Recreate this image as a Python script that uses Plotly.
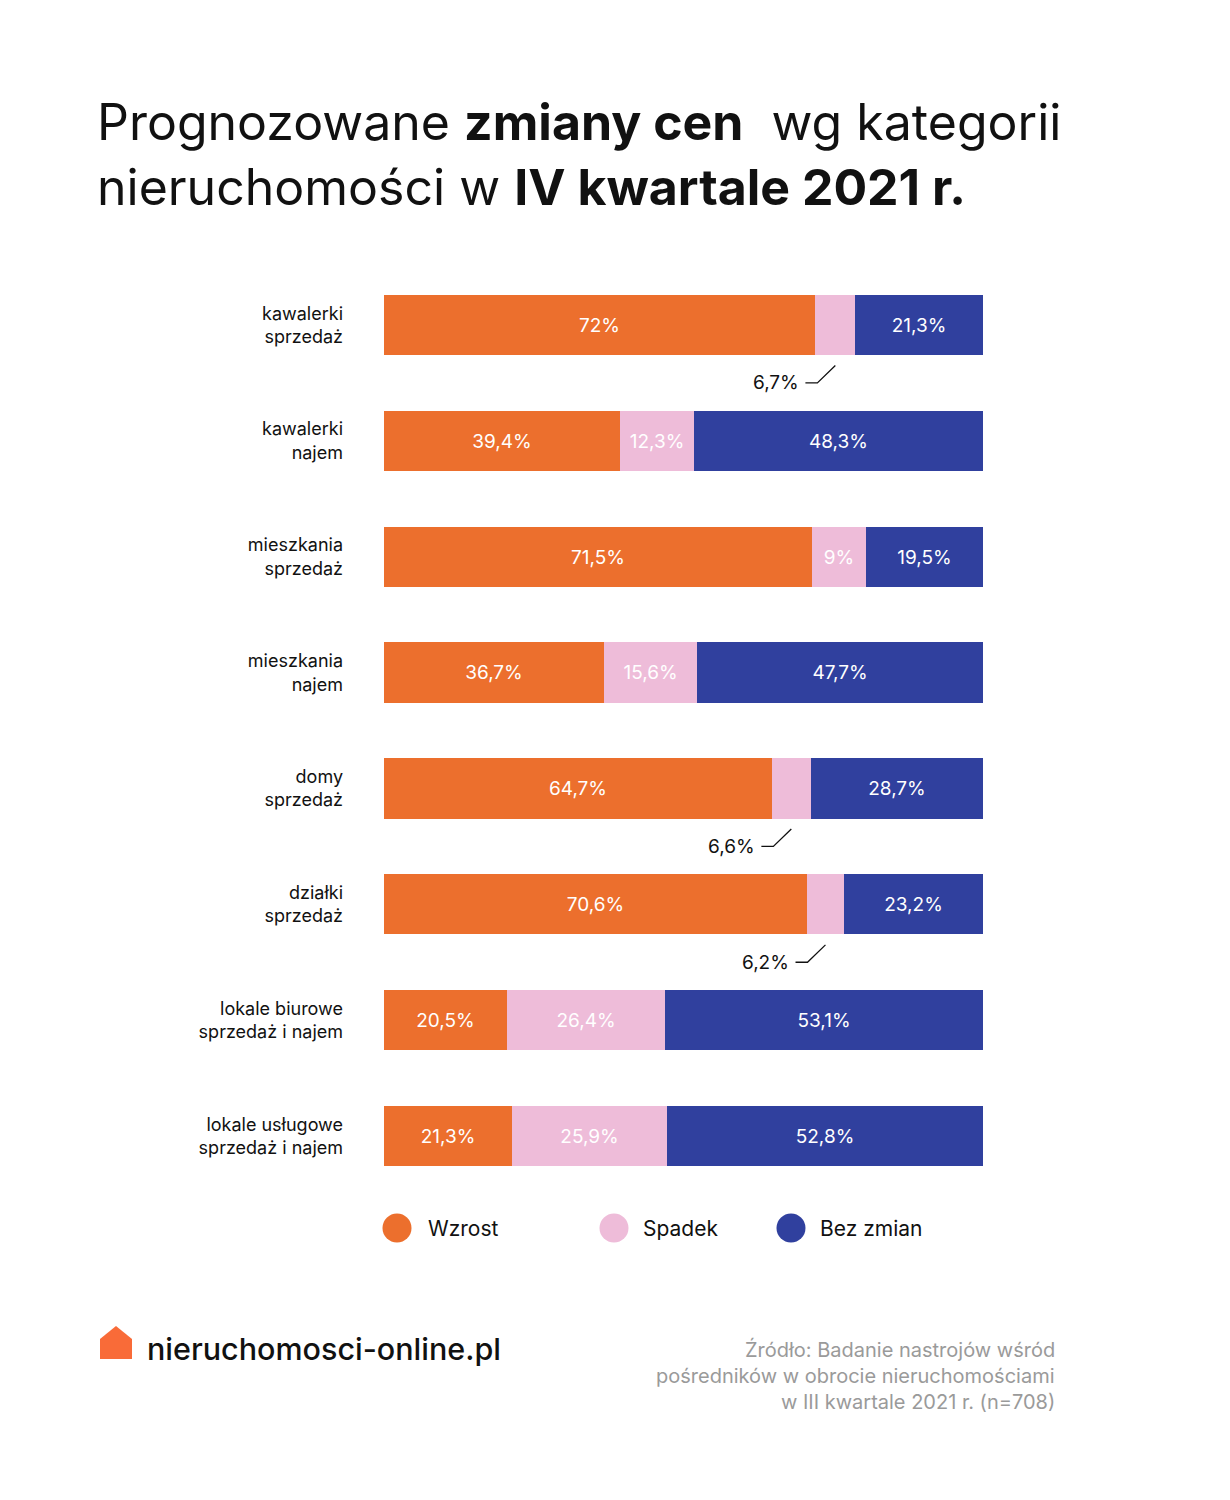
import plotly.graph_objects as go

categories = [
    "kawalerki<br>sprzedaż",
    "kawalerki<br>najem",
    "mieszkania<br>sprzedaż",
    "mieszkania<br>najem",
    "domy<br>sprzedaż",
    "działki<br>sprzedaż",
    "lokale biurowe<br>sprzedaż i najem",
    "lokale usługowe<br>sprzedaż i najem",
]
wzrost = [72.0, 39.4, 71.5, 36.7, 64.7, 70.6, 20.5, 21.3]
spadek = [6.7, 12.3, 9.0, 15.6, 6.6, 6.2, 26.4, 25.9]
bez_zmian = [21.3, 48.3, 19.5, 47.7, 28.7, 23.2, 53.1, 52.8]
series_names = ["Wzrost", "Spadek", "Bez zmian"]
colors = ["#EC6F2D", "#EEBCD9", "#30409E"]

title_lines = [
    "Prognozowane <b>zmiany cen</b>  wg kategorii",
    "nieruchomości w <b>IV kwartale 2021 r.</b>",
]
source_lines = [
    "Źródło: Badanie nastrojów wśród",
    "pośredników w obrocie nieruchomościami",
    "w III kwartale 2021 r. (n=708)",
]
brand = "nieruchomosci-online.pl"

FONT = "Inter"
OFF = 8  # page body margin
W, H = 1230, 1500
L, R = 384 - OFF, 983 - OFF
T, B = 267 - OFF, 1194 - OFF


def px(xp):
    return (xp - OFF - L) / (R - L)


def py(yp):
    return (B - (yp - OFF)) / (B - T)


def fmt(v):
    return f"{v:g}".replace(".", ",") + "%"


SMALL = 7.0
idx = list(range(len(categories)))
fig = go.Figure()
for name, vals, col in zip(series_names, [wzrost, spadek, bez_zmian], colors):
    fig.add_trace(go.Bar(
        name=name, orientation="h", y=idx, x=vals,
        marker=dict(color=col, line=dict(width=0)),
        width=0.52,
        text=[fmt(v) if v >= SMALL else "" for v in vals],
        textposition="inside", insidetextanchor="middle", textangle=0,
        textfont=dict(color="white", size=19, family=FONT),
        hoverinfo="skip", showlegend=False,
    ))

annotations = []
shapes = []
# callouts for small "Spadek" segments
for i, (w, s) in enumerate(zip(wzrost, spadek)):
    if s < SMALL:
        c = w + s / 2
        yb = i + 0.5
        shapes.append(dict(
            type="path", xref="x", yref="y",
            path=f"M {c-5},{yb} L {c-3},{yb} L {c},{i+0.35}",
            line=dict(color="#111111", width=1.3),
        ))
        annotations.append(dict(
            x=c - 5.8, y=yb, xref="x", yref="y", text=fmt(s),
            showarrow=False, xanchor="right", yanchor="middle",
            font=dict(size=19, color="#111111", family=FONT),
        ))

# title
for k, (line, yc) in enumerate(zip(title_lines, [122, 187])):
    annotations.append(dict(
        x=px(95), y=py(yc), xref="paper", yref="paper", text=line,
        showarrow=False, xanchor="left", yanchor="middle",
        font=dict(size=50, color="#111111", family=FONT),
    ))

# legend
leg_cx = [397, 614, 791]
leg_tx = [426, 641, 818]
for name, col, cx, tx in zip(series_names, colors, leg_cx, leg_tx):
    shapes.append(dict(
        type="circle", xref="paper", yref="paper",
        x0=px(cx - 14.5), x1=px(cx + 14.5), y0=py(1228 + 14.5), y1=py(1228 - 14.5),
        fillcolor=col, line=dict(width=0),
    ))
    annotations.append(dict(
        x=px(tx), y=py(1228), xref="paper", yref="paper", text=name,
        showarrow=False, xanchor="left", yanchor="middle",
        font=dict(size=21, color="#111111", family=FONT),
    ))

# logo house
hx0, hx1, hy_top, hy_eave, hy_bot = 100, 132, 1326, 1339, 1359
shapes.append(dict(
    type="path", xref="paper", yref="paper",
    path=(f"M {px(hx0)},{py(hy_bot)} L {px(hx0)},{py(hy_eave)} "
          f"L {px((hx0+hx1)/2)},{py(hy_top)} L {px(hx1)},{py(hy_eave)} "
          f"L {px(hx1)},{py(hy_bot)} Z"),
    fillcolor="#F96B38", line=dict(width=0),
))
annotations.append(dict(
    x=px(145), y=py(1348), xref="paper", yref="paper", text=brand,
    showarrow=False, xanchor="left", yanchor="middle",
    font=dict(size=30.5, color="#111111", family=FONT, weight=500),
))

# source
for line, yc in zip(source_lines, [1349, 1376, 1402]):
    annotations.append(dict(
        x=px(1057), y=py(yc), xref="paper", yref="paper", text=line,
        showarrow=False, xanchor="right", yanchor="middle",
        font=dict(size=20, color="#9A9A9A", family=FONT),
    ))

fig.update_layout(
    width=W, height=H,
    margin=dict(l=L, r=W - R, t=T, b=H - B, autoexpand=False),
    paper_bgcolor="white", plot_bgcolor="white",
    barmode="stack", bargap=0,
    xaxis=dict(range=[0, 100], visible=False, fixedrange=True),
    yaxis=dict(
        range=[7.5, -0.5], tickmode="array", tickvals=idx, ticktext=categories,
        showgrid=False, zeroline=False, showline=False, ticks="",
        ticklabelstandoff=40,
        tickfont=dict(size=18, color="#111111", family=FONT),
        fixedrange=True,
    ),
    showlegend=False,
    annotations=annotations, shapes=shapes,
    font=dict(family=FONT),
)

fig.write_html("out.html")
